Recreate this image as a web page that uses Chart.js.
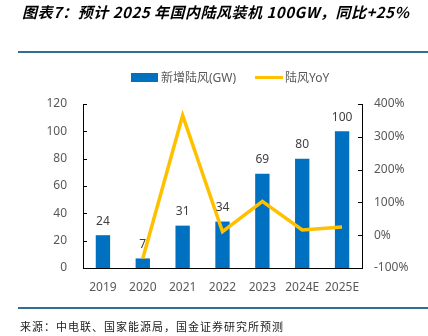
<!DOCTYPE html>
<html>
<head>
<meta charset="utf-8">
<script src="https://cdn.jsdelivr.net/npm/chart.js@4.4.1/dist/chart.umd.min.js"></script>
<style>
  body { margin: 0; background: #fff; }
  #wrap { position: relative; width: 428px; height: 336px; overflow: hidden; font-family: "Noto Sans", "Noto Sans CJK SC", sans-serif; }
  #grafico { position: absolute; left: 0; top: 0; }
  .titulo { position: absolute; left: 22px; top: 1px; font-family: "Noto Sans CJK SC", sans-serif; font-size: 15px; letter-spacing: 0.5px; font-weight: bold; font-style: italic; color: #000; white-space: nowrap; }
  .regua { position: absolute; left: 18px; right: 0; height: 2px; background: #2f6f91; }
  .fonte { position: absolute; left: 20px; top: 318px; font-family: "Noto Sans CJK SC", sans-serif; font-size: 11px; letter-spacing: 1px; color: #222; white-space: nowrap; }
  .legenda { position: absolute; top: 69px; font-size: 12px; color: #595959; white-space: nowrap; line-height: 16px; }
  .legenda span { display: inline-block; vertical-align: middle; }
</style>
</head>
<body>
<div id="wrap">
  <canvas id="grafico" width="428" height="336"></canvas>
  <div class="titulo">图表7：预计 2025 年国内陆风装机 100GW，同比+25%</div>
  <div class="regua" style="top:51px"></div>
  <div class="legenda" style="left:131px"><span style="width:27px;height:9px;background:#0070c0;margin-right:3px"></span><span>新增陆风(GW)</span></div>
  <div class="legenda" style="left:255px"><span style="width:28px;height:3px;background:#ffc000;margin-right:2px"></span><span>陆风YoY</span></div>
  <div class="regua" style="top:307px"></div>
  <div class="fonte">来源：中电联、国家能源局，国金证券研究所预测</div>
</div>
<script>
// categorias e séries
const anos = ['2019', '2020', '2021', '2022', '2023', '2024E', '2025E'];
const novosGW = [24, 7, 31, 34, 69, 80, 100];
const yoy = [null, -71, 365, 11, 103, 16, 25];

const ticksEsquerda = [0, 20, 40, 60, 80, 100, 120];
const ticksDireita = [-100, 0, 100, 200, 300, 400];

const corTexto = '#595959';

// marcas de escala para dentro do gráfico e rótulos dos valores
const extras = {
  id: 'extras',
  afterDatasetsDraw(chart) {
    const ctx = chart.ctx;
    const area = chart.chartArea;
    ctx.save();
    ctx.strokeStyle = '#000';
    ctx.lineWidth = 1;
    chart.scales.y.ticks.forEach(t => {
      const py = Math.round(chart.scales.y.getPixelForValue(t.value)) + 0.5;
      ctx.beginPath();
      ctx.moveTo(area.left, py);
      ctx.lineTo(area.left + 4, py);
      ctx.stroke();
    });
    chart.scales.y1.ticks.forEach(t => {
      const py = Math.round(chart.scales.y1.getPixelForValue(t.value)) + 0.5;
      ctx.beginPath();
      ctx.moveTo(area.right - 4, py);
      ctx.lineTo(area.right, py);
      ctx.stroke();
    });

    // números em cima das barras
    const meta = chart.getDatasetMeta(1);
    ctx.fillStyle = '#404040';
    ctx.font = '12px "Noto Sans", sans-serif';
    ctx.textAlign = 'center';
    ctx.textBaseline = 'middle';
    meta.data.forEach((bar, i) => {
      ctx.fillText(String(novosGW[i]), bar.x, bar.y - 14);
    });
    ctx.restore();
  }
};

new Chart(document.getElementById('grafico'), {
  data: {
    labels: anos,
    datasets: [
      {
        type: 'line',
        label: '陆风YoY',
        data: yoy,
        yAxisID: 'y1',
        borderColor: '#ffc000',
        backgroundColor: '#ffc000',
        borderWidth: 3.5,
        pointRadius: 0,
        tension: 0,
        order: 0
      },
      {
        type: 'bar',
        label: '新增陆风(GW)',
        data: novosGW,
        yAxisID: 'y',
        backgroundColor: '#0070c0',
        barPercentage: 0.36,
        categoryPercentage: 1,
        order: 1
      }
    ]
  },
  options: {
    responsive: false,
    animation: false,
    devicePixelRatio: 1,
    layout: { padding: { top: 104, left: 0, right: 0, bottom: 0 } },
    plugins: {
      legend: { display: false },
      tooltip: { enabled: false }
    },
    scales: {
      x: {
        offset: true,
        grid: { display: false, drawTicks: false },
        border: { display: true, color: '#000', width: 1 },
        ticks: { color: corTexto, font: { size: 12, family: '"Noto Sans", sans-serif' }, padding: 12, maxRotation: 0 },
        afterFit(scale) { scale.height = 68; }
      },
      y: {
        position: 'left',
        min: 0,
        max: 120,
        afterBuildTicks(scale) { scale.ticks = ticksEsquerda.map(v => ({ value: v })); },
        grid: { display: false, drawTicks: false },
        border: { display: true, color: '#000', width: 1 },
        ticks: { color: corTexto, font: { size: 12, family: '"Noto Sans", sans-serif' }, padding: 16 },
        afterFit(scale) { scale.width = 83; }
      },
      y1: {
        position: 'right',
        min: -100,
        max: 400,
        afterBuildTicks(scale) { scale.ticks = ticksDireita.map(v => ({ value: v })); },
        grid: { display: false, drawTicks: false },
        border: { display: true, color: '#000', width: 1 },
        ticks: {
          color: corTexto,
          font: { size: 12, family: '"Noto Sans", sans-serif' },
          padding: 12,
          callback: v => v + '%'
        },
        afterFit(scale) { scale.width = 66; }
      }
    }
  },
  plugins: [extras]
});
</script>
</body>
</html>
